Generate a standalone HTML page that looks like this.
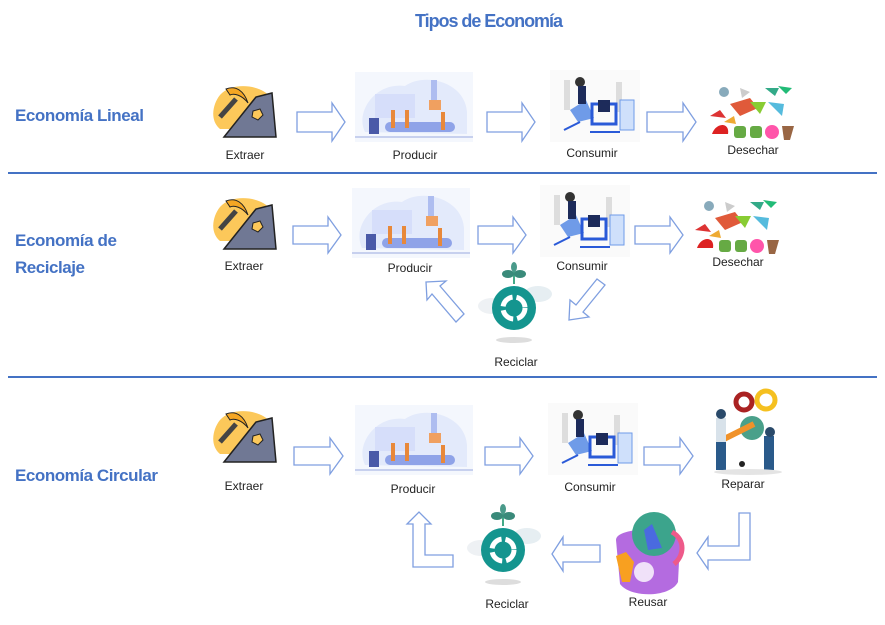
<!DOCTYPE html>
<html><head><meta charset="utf-8"><style>
html,body{margin:0;padding:0;background:#fff}
svg{display:block}
.h{font-family:"Liberation Sans",sans-serif;font-weight:bold;fill:#4472C4}
.l{font-family:"Liberation Sans",sans-serif;font-size:12px;fill:#222;text-anchor:middle}
.a{fill:#fff;stroke:#7f9fe0;stroke-width:1.3}
</style></head><body>
<svg width="885" height="625" viewBox="0 0 885 625" xmlns="http://www.w3.org/2000/svg">
<defs>
<g id="ext">
<path d="M8,12 C20,-2 50,2 58,14 C66,28 56,40 44,46 L8,46 C-2,38 0,22 8,12Z" fill="#fcc85a"/>
<path d="M12,54 L44,14 L60,10 L64,54Z" fill="#707894" stroke="#222" stroke-width="1.5"/>
<path d="M41,28 l7,-2 l3,6 l-5,5 l-6,-3z" fill="#fcc85a" stroke="#222" stroke-width="1"/>
<path d="M8,34 L24,16" stroke="#444" stroke-width="5"/>
<path d="M14,6 C24,2 32,8 36,20 C30,12 22,10 18,12Z" fill="#f5a623" stroke="#222" stroke-width="1"/>
</g>
<g id="prod">
<rect x="0" y="0" width="118" height="70" fill="#f4f7fd"/>
<path d="M10,60 C0,40 20,10 50,14 C70,0 110,10 112,40 L112,62Z" fill="#e3eafb"/>
<rect x="20" y="22" width="40" height="24" fill="#d6defa"/>
<rect x="76" y="8" width="6" height="22" fill="#aebdf0"/>
<rect x="74" y="28" width="12" height="10" fill="#f0a060"/>
<rect x="30" y="50" width="70" height="10" rx="5" fill="#8fa3e8"/>
<rect x="14" y="46" width="10" height="16" fill="#4a5aa8"/>
<rect x="36" y="38" width="4" height="18" fill="#e8883a"/><rect x="50" y="38" width="4" height="18" fill="#e8883a"/><rect x="86" y="40" width="4" height="18" fill="#e8883a"/>
<rect x="0" y="64" width="118" height="2" fill="#c7d0ee"/>
</g>
<g id="cons">
<rect x="0" y="0" width="90" height="72" fill="#fafafa"/>
<rect x="14" y="10" width="6" height="30" fill="#ddd"/><rect x="66" y="12" width="6" height="30" fill="#ddd"/>
<path d="M20,40 L36,30 L44,48 L28,52Z" fill="#6f9be8"/>
<circle cx="30" cy="12" r="5" fill="#333"/>
<rect x="28" y="16" width="8" height="18" fill="#1d2b5a"/>
<rect x="42" y="34" width="24" height="20" fill="none" stroke="#2a5ad8" stroke-width="3"/>
<rect x="48" y="30" width="12" height="12" fill="#1d2b5a"/>
<rect x="70" y="30" width="14" height="30" fill="#cfe0fb" stroke="#6f9be8"/>
<path d="M14,60 L30,52 M40,62 L70,62" stroke="#2a5ad8" stroke-width="2"/>
</g>
<g id="des">
<circle cx="14" cy="10" r="5" fill="#8ab"/><path d="M30,6 l10,4 l-8,6z" fill="#ccc"/><path d="M55,6 l14,0 l-4,8z" fill="#3a8"/><path d="M68,4 l14,2 l-6,6z" fill="#2b7"/>
<path d="M20,22 l20,-6 l8,10 l-18,8z" fill="#e05a3a"/><path d="M40,20 l16,0 l-6,12z" fill="#8c3"/><path d="M58,20 l16,2 l-2,12z" fill="#5bd"/>
<path d="M2,52 c4,-12 18,-12 16,0z" fill="#d22"/><rect x="24" y="44" width="12" height="12" rx="3" fill="#6a4"/><rect x="40" y="44" width="12" height="12" rx="3" fill="#6a4"/><circle cx="62" cy="50" r="7" fill="#f5a"/><path d="M72,44 l12,0 l-4,14 l-6,0z" fill="#964"/>
<path d="M0,34 l10,-6 l6,8z" fill="#d33"/><path d="M14,40 l10,-6 l2,8z" fill="#ea3"/>
</g>
<g id="rec">
<ellipse cx="14" cy="42" rx="14" ry="8" fill="#eef1f4"/><ellipse cx="60" cy="30" rx="14" ry="8" fill="#e6eef2"/>
<path d="M36,20 L36,6" stroke="#4a8" stroke-width="2"/><ellipse cx="30" cy="10" rx="6" ry="4" fill="#3a8a7a"/><ellipse cx="42" cy="10" rx="6" ry="4" fill="#3a8a7a"/><ellipse cx="36" cy="3" rx="3" ry="5" fill="#4a9a8a"/>
<circle cx="36" cy="44" r="22" fill="#14958f"/>
<circle cx="36" cy="44" r="11" fill="none" stroke="#fff" stroke-width="5" stroke-dasharray="14 4"/>
<ellipse cx="36" cy="76" rx="18" ry="3" fill="#ddd"/>
</g>
<g id="rep">
<circle cx="36" cy="14" r="8" fill="none" stroke="#a22" stroke-width="5"/><circle cx="58" cy="12" r="9" fill="none" stroke="#f5c020" stroke-width="5"/>
<circle cx="44" cy="40" r="12" fill="#4aa08a"/>
<path d="M14,52 L46,36" stroke="#f0922a" stroke-width="6"/>
<rect x="8" y="30" width="10" height="24" fill="#d8e2ea"/><rect x="8" y="54" width="10" height="28" fill="#2a5a8a"/><circle cx="13" cy="26" r="5" fill="#2a4a6a"/>
<rect x="56" y="48" width="10" height="34" fill="#2a5a8a"/><circle cx="62" cy="44" r="5" fill="#2a4a6a"/>
<circle cx="34" cy="76" r="3" fill="#222"/><ellipse cx="40" cy="84" rx="34" ry="3" fill="#e4e4e4"/>
</g>
<g id="reu">
<path d="M6,28 C6,14 70,14 70,30 L68,70 C60,86 20,86 10,72Z" fill="#b46be0"/>
<circle cx="44" cy="22" r="22" fill="#3ca48c"/>
<path d="M34,18 l8,-6 l10,24 l-14,2z" fill="#4a6ae0"/>
<path d="M62,20 C76,28 74,44 64,52" stroke="#ee5a8a" stroke-width="5" fill="none"/>
<circle cx="34" cy="60" r="10" fill="#fff" opacity=".8"/>
<path d="M6,44 l10,-4 l8,10 l-4,20 l-8,0z" fill="#f8a020"/>
</g>
</defs>

<text x="489" y="27" class="h" font-size="18" text-anchor="middle" textLength="148">Tipos de Economía</text>

<text x="15" y="121" class="h" font-size="17" textLength="129">Economía Lineal</text>
<text x="15" y="246" class="h" font-size="17" textLength="102">Economía de</text>
<text x="15" y="273" class="h" font-size="17" textLength="70">Reciclaje</text>
<text x="15" y="481" class="h" font-size="17" textLength="143">Economía Circular</text>

<line x1="8" y1="173" x2="877" y2="173" stroke="#4472C4" stroke-width="2"/>
<line x1="8" y1="377" x2="877" y2="377" stroke="#4472C4" stroke-width="2"/>

<!-- Row 1 -->
<use href="#ext" x="212" y="83"/>
<text x="245" y="159" class="l">Extraer</text>
<path class="a" d="M297,112 h35 v-9 l13,19 l-13,19 v-9 h-35z"/>
<use href="#prod" x="355" y="72"/>
<text x="415" y="159" class="l">Producir</text>
<path class="a" d="M487,112 h35 v-9 l13,19 l-13,19 v-9 h-35z"/>
<use href="#cons" x="550" y="70"/>
<text x="592" y="157" class="l">Consumir</text>
<path class="a" d="M647,112 h36 v-9 l13,19 l-13,19 v-9 h-36z"/>
<use href="#des" x="710" y="82"/>
<text x="753" y="154" class="l">Desechar</text>

<!-- Row 2 -->
<use href="#ext" x="212" y="195"/>
<text x="244" y="270" class="l">Extraer</text>
<path class="a" d="M293,226 h35 v-9 l13,18 l-13,18 v-9 h-35z"/>
<use href="#prod" x="352" y="188"/>
<text x="410" y="272" class="l">Producir</text>
<path class="a" d="M478,226 h35 v-9 l13,18 l-13,18 v-9 h-35z"/>
<use href="#cons" x="540" y="185"/>
<text x="582" y="270" class="l">Consumir</text>
<path class="a" d="M635,226 h35 v-9 l13,18 l-13,18 v-9 h-35z"/>
<use href="#des" x="695" y="196"/>
<text x="738" y="266" class="l">Desechar</text>
<use href="#rec" x="478" y="264"/>
<text x="516" y="366" class="l">Reciclar</text>
<path class="a" d="M426,282 l20,-1 l-6,5 l24,28 l-8,8 l-24,-28 l-5,6z"/>
<path class="a" d="M597,279 l8,6 l-22,27 l6,5 l-20,3 l1,-20 l6,5z"/>

<!-- Row 3 -->
<use href="#ext" x="212" y="408"/>
<text x="244" y="490" class="l">Extraer</text>
<path class="a" d="M294,447 h36 v-9 l13,18 l-13,18 v-9 h-36z"/>
<use href="#prod" x="355" y="405"/>
<text x="413" y="493" class="l">Producir</text>
<path class="a" d="M485,447 h35 v-9 l13,18 l-13,18 v-9 h-35z"/>
<use href="#cons" x="548" y="403"/>
<text x="590" y="491" class="l">Consumir</text>
<path class="a" d="M644,447 h36 v-9 l13,18 l-13,18 v-9 h-36z"/>
<use href="#rep" x="708" y="388"/>
<text x="743" y="488" class="l">Reparar</text>
<path class="a" d="M739,513 h11 v47 h-42 v9 l-11,-16 l11,-16 v9 h31z"/>
<use href="#reu" x="610" y="512"/>
<text x="648" y="606" class="l">Reusar</text>
<path class="a" d="M600,545 v17 h-37 v9 l-11,-17 l11,-17 v8z"/>
<use href="#rec" x="467" y="506"/>
<text x="507" y="608" class="l">Reciclar</text>
<path class="a" d="M413,567 v-43 h-6 l12,-12 l12,12 h-6 v31 h28 v12z"/>
</svg>
</body></html>
